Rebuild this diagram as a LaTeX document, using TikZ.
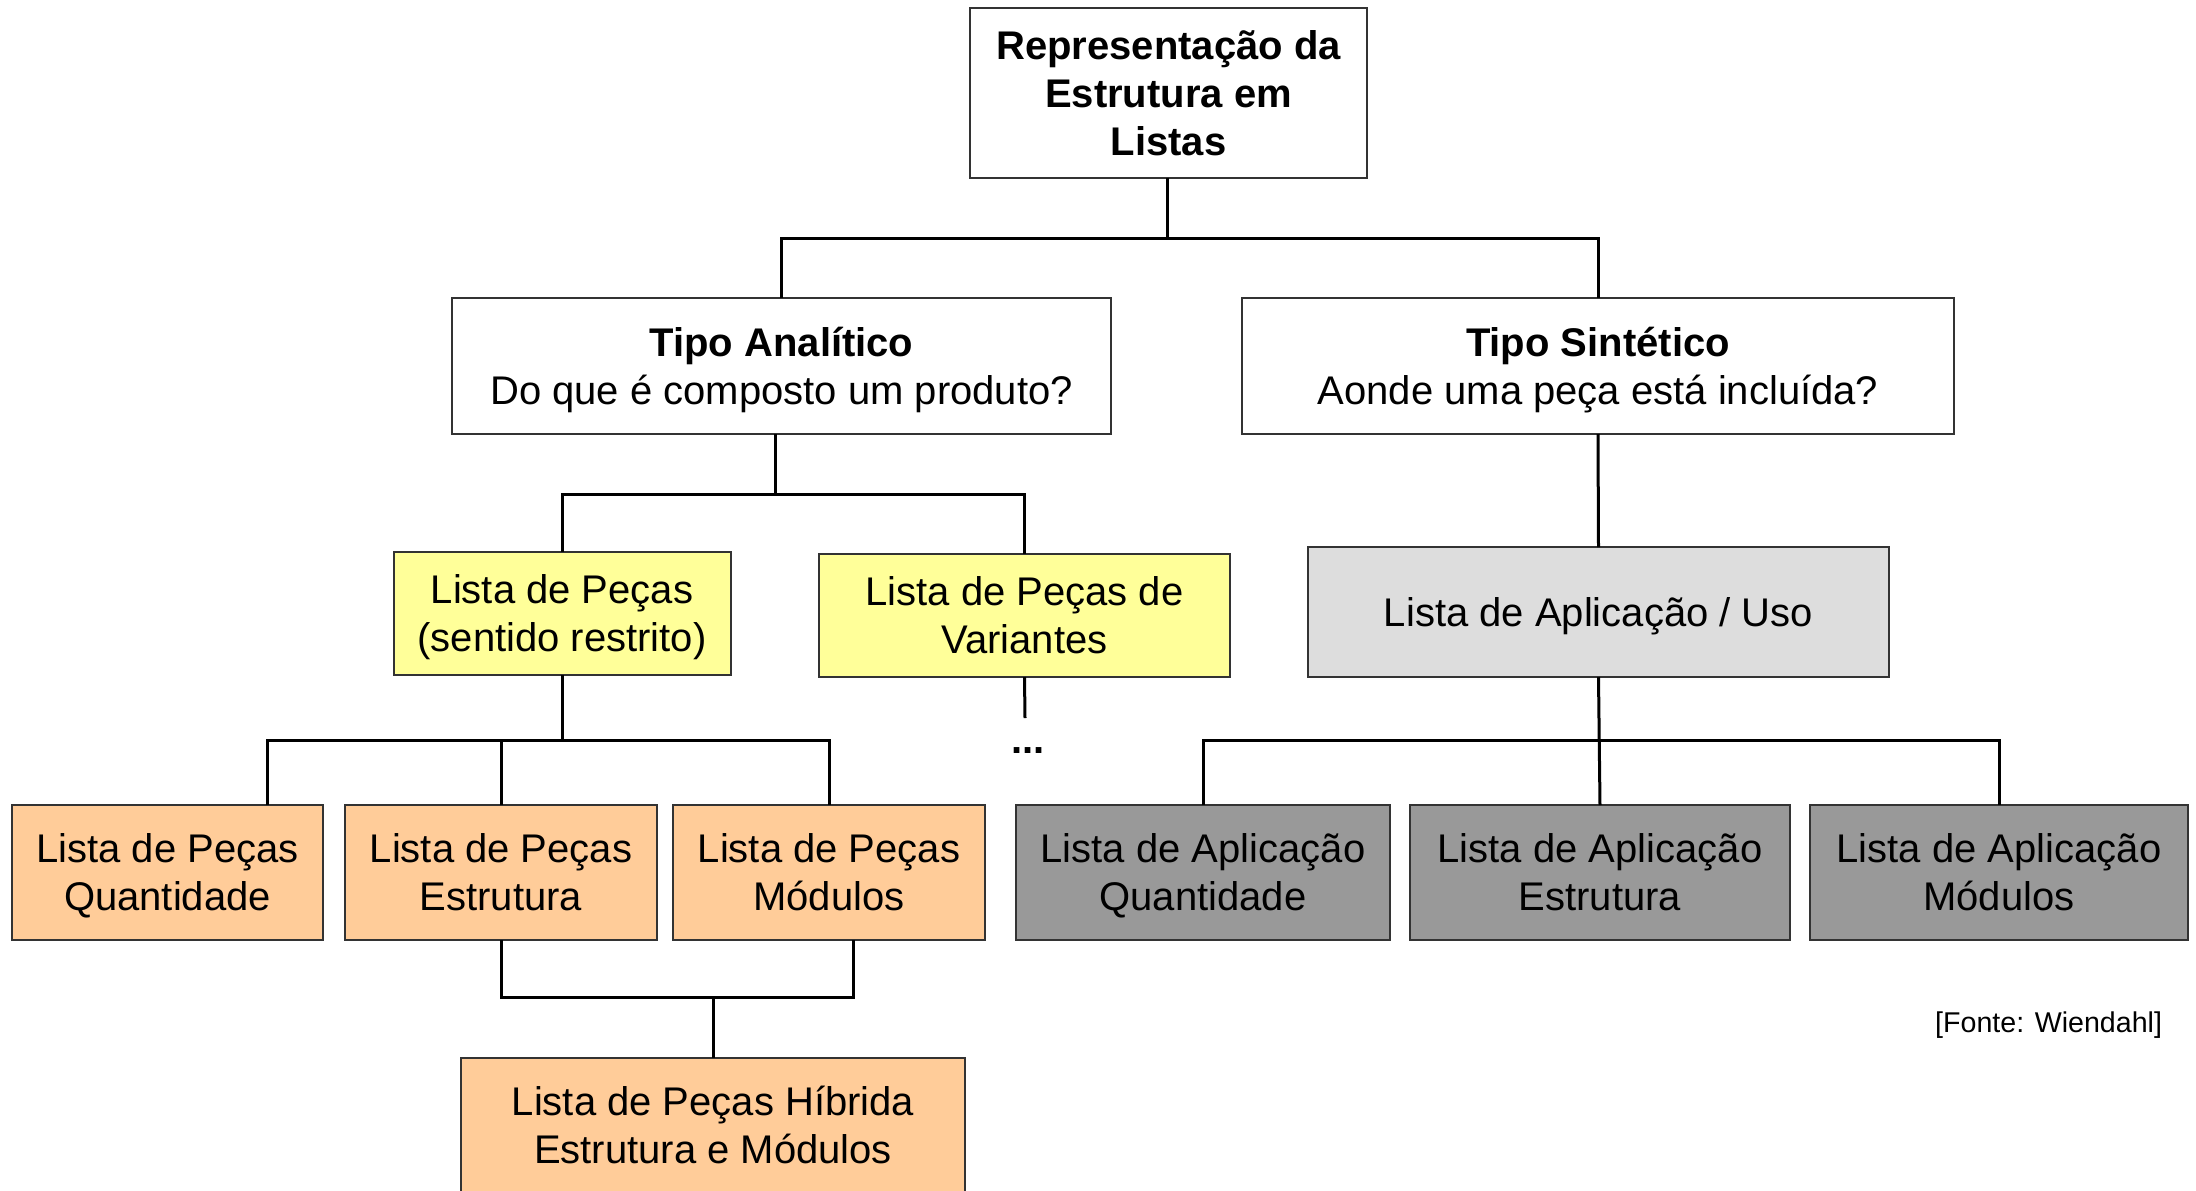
\documentclass[tikz,border=0pt]{standalone}
\usepackage{fontspec}
\setmainfont{Liberation Sans}
\usetikzlibrary{positioning}
\definecolor{amarelo}{HTML}{FFFF99}
\definecolor{laranja}{HTML}{FFCC99}
\definecolor{cinzaclaro}{HTML}{DDDDDD}
\definecolor{cinzaescuro}{HTML}{999999}
\definecolor{borda}{HTML}{333333}
\begin{document}
\begin{tikzpicture}[
    x=.5pt,y=-.5pt,
    every node/.style={
        inner sep=0pt,
        outer sep=0pt,
    },
    caixa/.style n args={3}{
        draw=borda,rectangle,
        line width=1pt,
        fill=#1,
        align=center,
        font=\fontsize{20}{24}\selectfont,
        text depth=.3pt,
        minimum width=#2*.5pt,
        minimum height=#3*.5pt,
    },
    duas/.style={
        text height=38.5pt,
    },
    conn/.style={
        draw=black,
        line width=1.5pt,
    },
]
    \useasboundingbox (0,0) rectangle (2196,1190);
    % topo
    \node[caixa={white}{397}{170}] (topo) at (1168.5,93) {\bfseries Representação da\\\bfseries Estrutura em\\\bfseries Listas};
    \node[caixa={white}{659}{136},duas] (anal) at (781.5,366) {\textbf{Tipo Analítico}\\Do que é composto um produto?};
    \node[caixa={white}{712}{136},duas] (sint) at (1598,366) {\textbf{Tipo Sintético}\\Aonde uma peça está incluída?};
    % segundo nivel
    \node[caixa={amarelo}{337}{123},duas] (pecas) at (562,613.5) {Lista de Peças\\(sentido restrito)};
    \node[caixa={amarelo}{411}{123},duas] (vari) at (1024.5,615.5) {Lista de Peças de\\Variantes};
    \node[caixa={cinzaclaro}{581}{130},text height=18.4pt,text depth=4.2pt] (uso) at (1598.5,612) {Lista de Aplicação / Uso};
    % terceiro nivel
    \node[caixa={laranja}{311}{135},duas] (quant) at (167.5,872.5) {Lista de Peças\\Quantidade};
    \node[caixa={laranja}{312}{135},duas] (estr) at (501,872.5) {Lista de Peças\\Estrutura};
    \node[caixa={laranja}{311.5}{135},duas] (modu) at (829,872.5) {Lista de Peças\\Módulos};
    \node[caixa={cinzaescuro}{374}{135},duas] (aquant) at (1203,872.5) {Lista de Aplicação\\Quantidade};
    \node[caixa={cinzaescuro}{380}{135},duas] (aestr) at (1600,872.5) {Lista de Aplicação\\Estrutura};
    \node[caixa={cinzaescuro}{378}{135},duas] (amodu) at (1999,872.5) {Lista de Aplicação\\Módulos};
    \node[caixa={laranja}{504}{134},duas] (hibr) at (713,1125) {Lista de Peças Híbrida\\Estrutura e Módulos};
    \node[font=\fontsize{20}{24}\selectfont\bfseries] (pontos) at (1028,751) {...};
    \node[anchor=east,font=\fontsize{14.3}{17}\selectfont] (fonte) at (2162,1025) {[Fonte: Wiendahl]};
    % ligacoes
    \coordinate (j1) at (1167,238);
    \coordinate (j2) at (775,494);
    \coordinate (j3) at (267,740);
    \coordinate (j4) at (853,997);
    \coordinate (j5) at (1600,740);
    \coordinate (vfim) at (1025,718);
    \draw[conn] (topo.south -| j1) -- (j1);
    \draw[conn] (anal.north) |- (j1) -| (sint.north);
    \draw[conn] (anal.south -| j2) -- (j2);
    \draw[conn] (pecas.north) |- (j2) -| (vari.north);
    \draw[conn] (pecas.south) -- (pecas.south |- j3);
    \draw[conn] (j3 |- quant.north) -- (j3) -| (modu.north);
    \draw[conn] (estr.north) -- (estr.north |- j3);
    \draw[conn] (estr.south) |- (j4) -- (j4 |- modu.south);
    \draw[conn] (hibr.north) -- (hibr.north |- j4);
    \draw[conn] (vari.south) -- (vfim);
    \draw[conn] (sint.south) -- (uso.north);
    \draw[conn] (uso.south) -- (aestr.north);
    \draw[conn] (aquant.north) |- (j5) -| (amodu.north);
\end{tikzpicture}
\end{document}
